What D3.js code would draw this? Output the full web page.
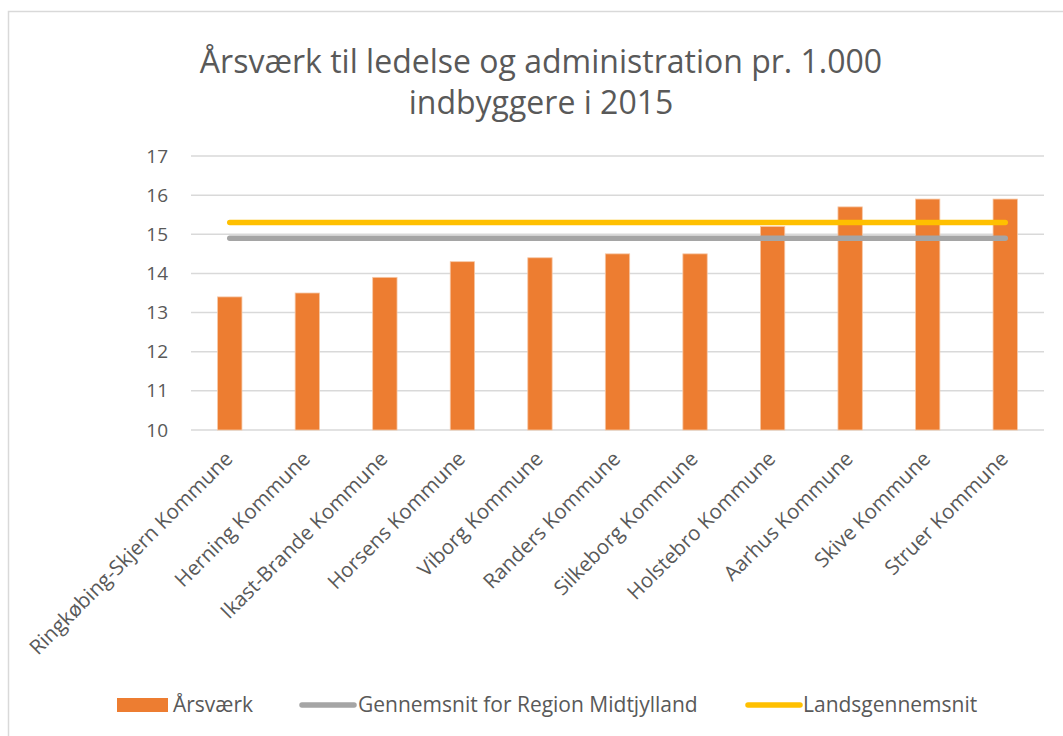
<!DOCTYPE html>
<html>
<head>
<meta charset="utf-8">
<script src="https://cdn.jsdelivr.net/npm/d3@7"></script>
<style>
  html, body { margin: 0; padding: 0; background: #fff; }
  svg { display: block; }
  text { font-family: "Open Sans", sans-serif; fill: #595959; }
</style>
</head>
<body>
<svg id="chart" width="1063" height="736"></svg>
<script>
const categories = [
  "Ringkøbing-Skjern Kommune", "Herning Kommune", "Ikast-Brande Kommune",
  "Horsens Kommune", "Viborg Kommune", "Randers Kommune", "Silkeborg Kommune",
  "Holstebro Kommune", "Aarhus Kommune", "Skive Kommune", "Struer Kommune"
];
const aarsvaerk = [13.4, 13.5, 13.9, 14.3, 14.4, 14.5, 14.5, 15.2, 15.7, 15.9, 15.9];
const regionAvg = [14.9, 14.9, 14.9, 14.9, 14.9, 14.9, 14.9, 14.9, 14.9, 14.9, 14.9];
const landsAvg  = [15.3, 15.3, 15.3, 15.3, 15.3, 15.3, 15.3, 15.3, 15.3, 15.3, 15.3];
const yTicks = [10, 11, 12, 13, 14, 15, 16, 17];
const titleLines = ["Årsværk til ledelse og administration pr. 1.000", "indbyggere i 2015"];
const legendLabels = ["Årsværk", "Gennemsnit for Region Midtjylland", "Landsgennemsnit"];

const svg = d3.select("#chart");
const plot = { left: 191, right: 1044, top: 156, bottom: 430 };

// chart border (only top & left visible in reference)
svg.append("rect").attr("x", 8.5).attr("y", 11.5).attr("width", 1200).attr("height", 900)
  .attr("fill", "none").attr("stroke", "#d9d9d9").attr("stroke-width", 1.5);

// title
svg.append("text").attr("x", 541).attr("y", 73).attr("text-anchor", "middle")
  .style("font-size", "32px").text(titleLines[0]);
svg.append("text").attr("x", 541).attr("y", 114).attr("text-anchor", "middle")
  .style("font-size", "32px").text(titleLines[1]);

const x = d3.scaleBand().domain(categories).range([plot.left, plot.right])
  .paddingInner(0.686).paddingOuter(0.343);
const y = d3.scaleLinear().domain([10, 17]).range([plot.bottom, plot.top]);

// gridlines
svg.append("g").selectAll("line").data(yTicks).join("line")
  .attr("x1", plot.left).attr("x2", plot.right)
  .attr("y1", d => y(d)).attr("y2", d => y(d))
  .attr("stroke", "#d9d9d9").attr("stroke-width", 1.5);

// y axis labels
const yAxis = d3.axisLeft(y).tickValues(yTicks).tickSize(0).tickPadding(0).tickFormat(d3.format("d"));
const gy = svg.append("g").attr("transform", `translate(168,0)`).call(yAxis);
gy.select(".domain").remove();
gy.selectAll("text").style("font-size", "19px").attr("fill", "#595959")
  .style("font-family", "'Open Sans', sans-serif");

// bars
svg.append("g").selectAll("rect").data(aarsvaerk).join("rect")
  .attr("x", (d, i) => x(categories[i]))
  .attr("width", x.bandwidth())
  .attr("y", d => y(d))
  .attr("height", d => y(10) - y(d))
  .attr("fill", "#ED7D31")
  .attr("stroke", "#f6c7a6").attr("stroke-width", 0.8);

// lines
const cx = i => x(categories[i]) + x.bandwidth() / 2;
const line = d3.line().x((d, i) => cx(i)).y(d => y(d));
svg.append("path").datum(regionAvg).attr("d", line)
  .attr("fill", "none").attr("stroke", "#A5A5A5").attr("stroke-width", 5.5).attr("stroke-linecap", "round");
svg.append("path").datum(landsAvg).attr("d", line)
  .attr("fill", "none").attr("stroke", "#FFC000").attr("stroke-width", 5.5).attr("stroke-linecap", "round");

// x labels
svg.append("g").selectAll("text").data(categories).join("text")
  .attr("transform", (d, i) => `translate(${cx(i) - 1},455) rotate(-45)`)
  .attr("text-anchor", "end").attr("dy", "0.35em")
  .style("font-size", "20.5px").text(d => d);

// legend
const ly = 705;
const lg = svg.append("g");
lg.append("rect").attr("x", 117).attr("y", ly - 7).attr("width", 51).attr("height", 14).attr("fill", "#ED7D31");
lg.append("text").attr("x", 173).attr("y", ly).attr("dy", "0.35em").style("font-size", "21px").text(legendLabels[0]);
lg.append("line").attr("x1", 302).attr("x2", 354).attr("y1", ly).attr("y2", ly)
  .attr("stroke", "#A5A5A5").attr("stroke-width", 5.5).attr("stroke-linecap", "round");
lg.append("text").attr("x", 358).attr("y", ly).attr("dy", "0.35em").style("font-size", "21px").text(legendLabels[1]);
lg.append("line").attr("x1", 748).attr("x2", 800).attr("y1", ly).attr("y2", ly)
  .attr("stroke", "#FFC000").attr("stroke-width", 5.5).attr("stroke-linecap", "round");
lg.append("text").attr("x", 803).attr("y", ly).attr("dy", "0.35em").style("font-size", "21px").text(legendLabels[2]);
</script>
</body>
</html>
